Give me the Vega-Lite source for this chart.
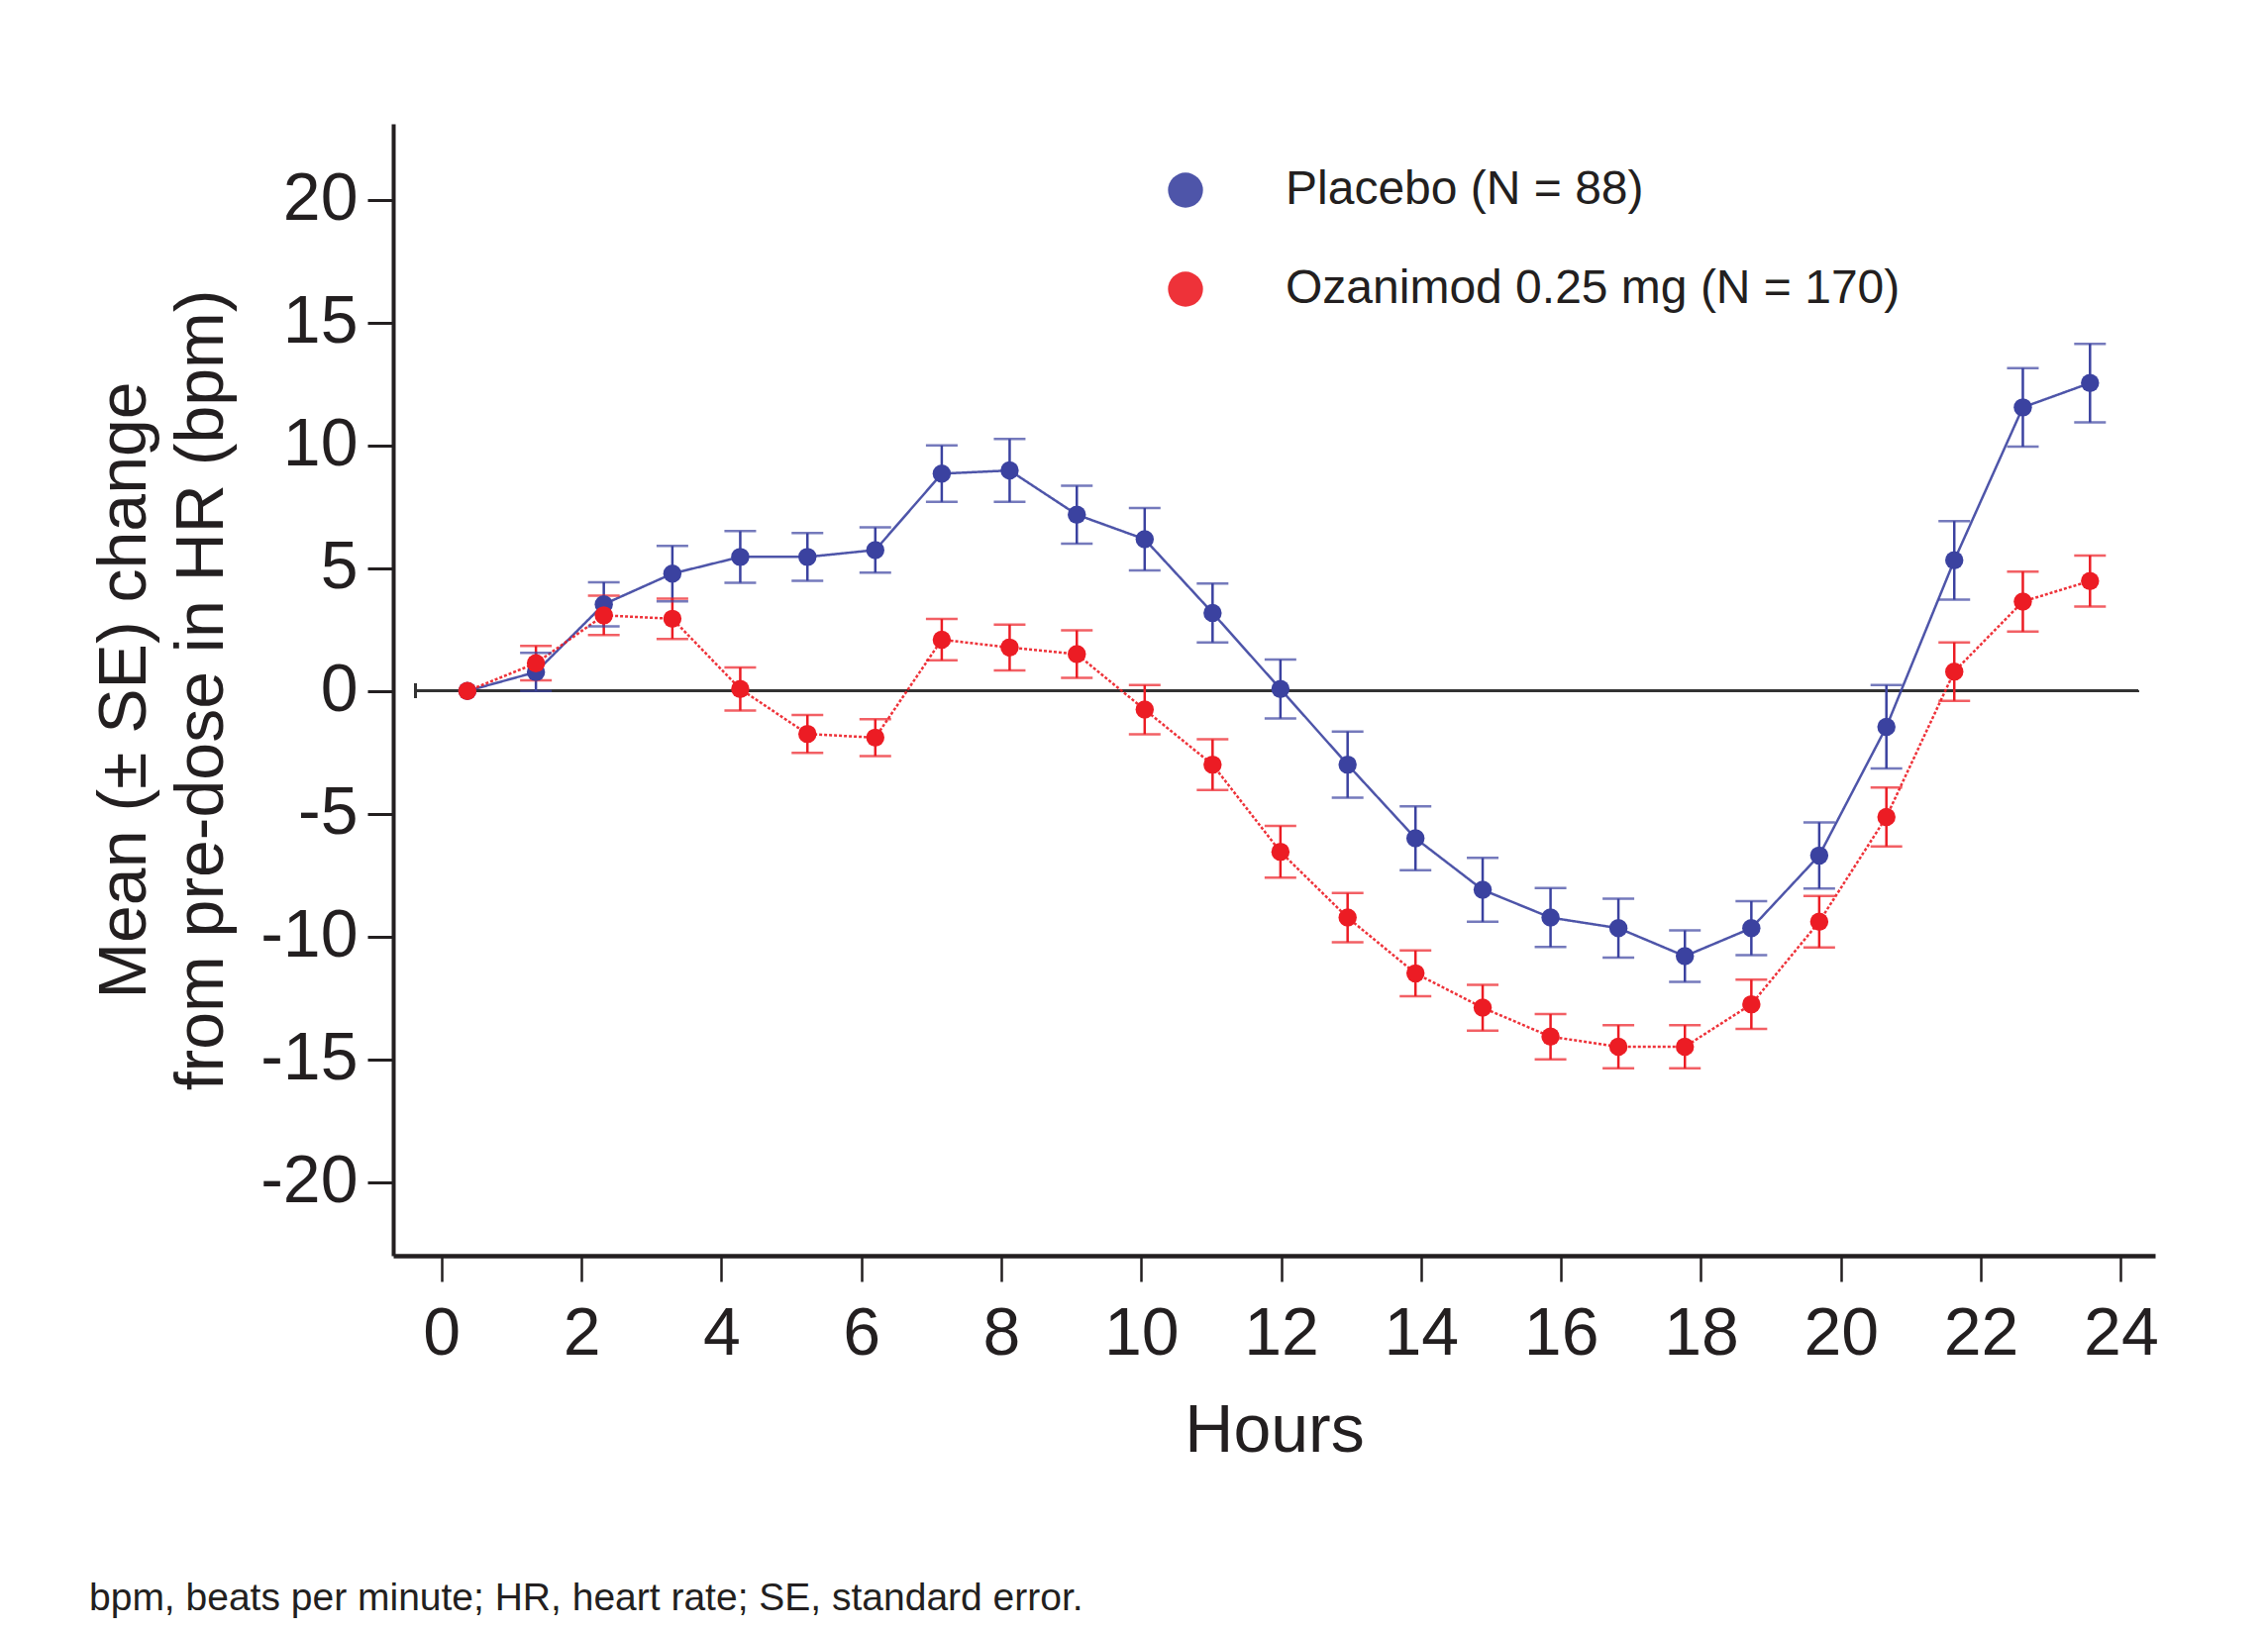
{
  "$schema": "https://vega.github.io/schema/vega-lite/v6.json",
  "width": 1779,
  "height": 1143,
  "autosize": {"type": "none"},
  "padding": {"left": 397, "top": 125, "right": 114, "bottom": 379},
  "background": "white",
  "title": {
    "text": "bpm, beats per minute; HR, heart rate; SE, standard error.",
    "orient": "bottom",
    "anchor": "start",
    "frame": "group",
    "dx": -307,
    "offset": 116,
    "font": "Liberation Sans",
    "fontSize": 39,
    "fontWeight": "normal",
    "color": "#231f20"
  },
  "config": {
    "view": {"stroke": null},
    "font": "Liberation Sans",
    "axis": {
      "labelFont": "Liberation Sans",
      "titleFont": "Liberation Sans",
      "labelFontSize": 68,
      "titleFontSize": 68,
      "titleFontWeight": "normal",
      "labelColor": "#231f20",
      "titleColor": "#231f20",
      "domainColor": "#231f20",
      "tickColor": "#231f20",
      "grid": false,
      "tickSize": 26
    }
  },
  "data": {
    "values": [
      {"group": "Placebo (N = 88)", "hour": 0.37, "value": 0.0, "lo": null, "hi": null},
      {"group": "Placebo (N = 88)", "hour": 1.35, "value": 0.77, "lo": 0.0, "hi": 1.55},
      {"group": "Placebo (N = 88)", "hour": 2.32, "value": 3.53, "lo": 2.63, "hi": 4.43},
      {"group": "Placebo (N = 88)", "hour": 3.3, "value": 4.78, "lo": 3.65, "hi": 5.91},
      {"group": "Placebo (N = 88)", "hour": 4.27, "value": 5.46, "lo": 4.41, "hi": 6.51},
      {"group": "Placebo (N = 88)", "hour": 5.23, "value": 5.46, "lo": 4.49, "hi": 6.43},
      {"group": "Placebo (N = 88)", "hour": 6.2, "value": 5.74, "lo": 4.82, "hi": 6.66},
      {"group": "Placebo (N = 88)", "hour": 7.15, "value": 8.85, "lo": 7.7, "hi": 10.0},
      {"group": "Placebo (N = 88)", "hour": 8.12, "value": 8.98, "lo": 7.7, "hi": 10.26},
      {"group": "Placebo (N = 88)", "hour": 9.08, "value": 7.18, "lo": 6.0, "hi": 8.36},
      {"group": "Placebo (N = 88)", "hour": 10.05, "value": 6.18, "lo": 4.91, "hi": 7.45},
      {"group": "Placebo (N = 88)", "hour": 11.02, "value": 3.18, "lo": 1.98, "hi": 4.38},
      {"group": "Placebo (N = 88)", "hour": 11.99, "value": 0.08, "lo": -1.12, "hi": 1.28},
      {"group": "Placebo (N = 88)", "hour": 12.95, "value": -3.0, "lo": -4.35, "hi": -1.65},
      {"group": "Placebo (N = 88)", "hour": 13.92, "value": -6.0, "lo": -7.3, "hi": -4.7},
      {"group": "Placebo (N = 88)", "hour": 14.88, "value": -8.1, "lo": -9.4, "hi": -6.8},
      {"group": "Placebo (N = 88)", "hour": 15.85, "value": -9.23, "lo": -10.43, "hi": -8.03},
      {"group": "Placebo (N = 88)", "hour": 16.82, "value": -9.66, "lo": -10.86, "hi": -8.46},
      {"group": "Placebo (N = 88)", "hour": 17.77, "value": -10.8, "lo": -11.85, "hi": -9.75},
      {"group": "Placebo (N = 88)", "hour": 18.72, "value": -9.66, "lo": -10.76, "hi": -8.56},
      {"group": "Placebo (N = 88)", "hour": 19.69, "value": -6.7, "lo": -8.05, "hi": -5.35},
      {"group": "Placebo (N = 88)", "hour": 20.65, "value": -1.46, "lo": -3.16, "hi": 0.24},
      {"group": "Placebo (N = 88)", "hour": 21.62, "value": 5.32, "lo": 3.72, "hi": 6.92},
      {"group": "Placebo (N = 88)", "hour": 22.6, "value": 11.55, "lo": 9.95, "hi": 13.15},
      {"group": "Placebo (N = 88)", "hour": 23.56, "value": 12.54, "lo": 10.94, "hi": 14.14},
      {"group": "Ozanimod 0.25 mg (N = 170)", "hour": 0.37, "value": 0.0, "lo": null, "hi": null},
      {"group": "Ozanimod 0.25 mg (N = 170)", "hour": 1.35, "value": 1.13, "lo": 0.43, "hi": 1.83},
      {"group": "Ozanimod 0.25 mg (N = 170)", "hour": 2.32, "value": 3.08, "lo": 2.28, "hi": 3.88},
      {"group": "Ozanimod 0.25 mg (N = 170)", "hour": 3.3, "value": 2.94, "lo": 2.12, "hi": 3.76},
      {"group": "Ozanimod 0.25 mg (N = 170)", "hour": 4.27, "value": 0.08, "lo": -0.8, "hi": 0.96},
      {"group": "Ozanimod 0.25 mg (N = 170)", "hour": 5.23, "value": -1.75, "lo": -2.52, "hi": -0.98},
      {"group": "Ozanimod 0.25 mg (N = 170)", "hour": 6.2, "value": -1.9, "lo": -2.65, "hi": -1.15},
      {"group": "Ozanimod 0.25 mg (N = 170)", "hour": 7.15, "value": 2.09, "lo": 1.25, "hi": 2.93},
      {"group": "Ozanimod 0.25 mg (N = 170)", "hour": 8.12, "value": 1.77, "lo": 0.84, "hi": 2.7},
      {"group": "Ozanimod 0.25 mg (N = 170)", "hour": 9.08, "value": 1.5, "lo": 0.53, "hi": 2.47},
      {"group": "Ozanimod 0.25 mg (N = 170)", "hour": 10.05, "value": -0.76, "lo": -1.76, "hi": 0.24},
      {"group": "Ozanimod 0.25 mg (N = 170)", "hour": 11.02, "value": -3.0, "lo": -4.03, "hi": -1.97},
      {"group": "Ozanimod 0.25 mg (N = 170)", "hour": 11.99, "value": -6.55, "lo": -7.6, "hi": -5.5},
      {"group": "Ozanimod 0.25 mg (N = 170)", "hour": 12.95, "value": -9.23, "lo": -10.23, "hi": -8.23},
      {"group": "Ozanimod 0.25 mg (N = 170)", "hour": 13.92, "value": -11.5, "lo": -12.43, "hi": -10.57},
      {"group": "Ozanimod 0.25 mg (N = 170)", "hour": 14.88, "value": -12.9, "lo": -13.83, "hi": -11.97},
      {"group": "Ozanimod 0.25 mg (N = 170)", "hour": 15.85, "value": -14.08, "lo": -15.0, "hi": -13.16},
      {"group": "Ozanimod 0.25 mg (N = 170)", "hour": 16.82, "value": -14.49, "lo": -15.37, "hi": -13.61},
      {"group": "Ozanimod 0.25 mg (N = 170)", "hour": 17.77, "value": -14.49, "lo": -15.37, "hi": -13.61},
      {"group": "Ozanimod 0.25 mg (N = 170)", "hour": 18.72, "value": -12.76, "lo": -13.76, "hi": -11.76},
      {"group": "Ozanimod 0.25 mg (N = 170)", "hour": 19.69, "value": -9.4, "lo": -10.45, "hi": -8.35},
      {"group": "Ozanimod 0.25 mg (N = 170)", "hour": 20.65, "value": -5.13, "lo": -6.33, "hi": -3.93},
      {"group": "Ozanimod 0.25 mg (N = 170)", "hour": 21.62, "value": 0.79, "lo": -0.4, "hi": 1.98},
      {"group": "Ozanimod 0.25 mg (N = 170)", "hour": 22.6, "value": 3.64, "lo": 2.42, "hi": 4.86},
      {"group": "Ozanimod 0.25 mg (N = 170)", "hour": 23.56, "value": 4.48, "lo": 3.44, "hi": 5.52}
    ]
  },
  "encoding": {
    "x": {
      "field": "hour",
      "type": "quantitative",
      "scale": {"domain": [-0.69, 24.49], "nice": false, "zero": false},
      "axis": {
        "title": "Hours",
        "values": [0, 2, 4, 6, 8, 10, 12, 14, 16, 18, 20, 22, 24],
        "domainWidth": 4.5,
        "tickWidth": 2.5,
        "labelPadding": 19,
        "titlePadding": 30,
        "labelFlush": false
      }
    },
    "color": {
      "field": "group",
      "type": "nominal",
      "sort": ["Placebo (N = 88)", "Ozanimod 0.25 mg (N = 170)"],
      "scale": {
        "domain": ["Placebo (N = 88)", "Ozanimod 0.25 mg (N = 170)"],
        "range": ["#3b42a0", "#ec1c24"]
      }
    }
  },
  "layer": [
    {
      "mark": {"type": "rule", "color": "#333333", "strokeWidth": 2.5},
      "encoding": {
        "y": {"datum": 0, "type": "quantitative"},
        "x": {"datum": -0.37, "type": "quantitative"},
        "x2": {"datum": 24.25},
        "color": {"value": "#333333"}
      }
    },
    {
      "mark": {"type": "tick", "orient": "vertical", "size": 14, "thickness": 2, "color": "#333333"},
      "encoding": {
        "y": {"datum": 0, "type": "quantitative"},
        "x": {"datum": -0.37, "type": "quantitative"},
        "color": {"value": "#333333"}
      }
    },
    {
      "mark": {"type": "line", "strokeWidth": 2.5, "opacity": 0.9},
      "encoding": {
        "y": {"field": "value", "type": "quantitative"},
        "strokeDash": {
          "field": "group",
          "type": "nominal",
          "scale": {
            "domain": ["Placebo (N = 88)", "Ozanimod 0.25 mg (N = 170)"],
            "range": [[1, 0], [3, 2]]
          },
          "legend": null
        },
        "detail": {"field": "group"}
      }
    },
    {
      "mark": {"type": "rule", "strokeWidth": 2.5},
      "encoding": {
        "y": {"field": "lo", "type": "quantitative"},
        "y2": {"field": "hi"}
      }
    },
    {
      "mark": {"type": "tick", "orient": "horizontal", "size": 32, "thickness": 2.5},
      "encoding": {
        "y": {"field": "lo", "type": "quantitative"}
      }
    },
    {
      "mark": {"type": "tick", "orient": "horizontal", "size": 32, "thickness": 2.5},
      "encoding": {
        "y": {"field": "hi", "type": "quantitative"}
      }
    },
    {
      "mark": {"type": "point", "filled": true, "size": 340, "opacity": 1, "shape": "circle"},
      "encoding": {
        "y": {
          "field": "value",
          "type": "quantitative",
          "scale": {"domain": [-23, 23.1], "nice": false, "zero": false},
          "axis": {
            "title": ["Mean (± SE) change", "from pre-dose in HR (bpm)"],
            "titleLineHeight": 78,
            "titlePadding": 24,
            "values": [-20, -15, -10, -5, 0, 5, 10, 15, 20],
            "labelExpr": "'' + datum.value",
            "domainWidth": 4,
            "tickWidth": 3,
            "labelPadding": 10,
            "labelFlush": false
          }
        },
        "color": {
          "field": "group",
          "type": "nominal",
          "sort": ["Placebo (N = 88)", "Ozanimod 0.25 mg (N = 170)"],
          "legend": {
            "title": null,
            "orient": "none",
            "legendX": 776,
            "legendY": 43,
            "padding": 0,
            "symbolType": "circle",
            "symbolSize": 1250,
            "symbolStrokeWidth": 0,
            "labelFontSize": 48,
            "labelFont": "Liberation Sans",
            "labelColor": "#231f20",
            "labelOffset": 77,
            "labelLimit": 1200,
            "rowPadding": 52
          }
        }
      }
    }
  ],
  "resolve": {"scale": {"y": "shared"}}
}
